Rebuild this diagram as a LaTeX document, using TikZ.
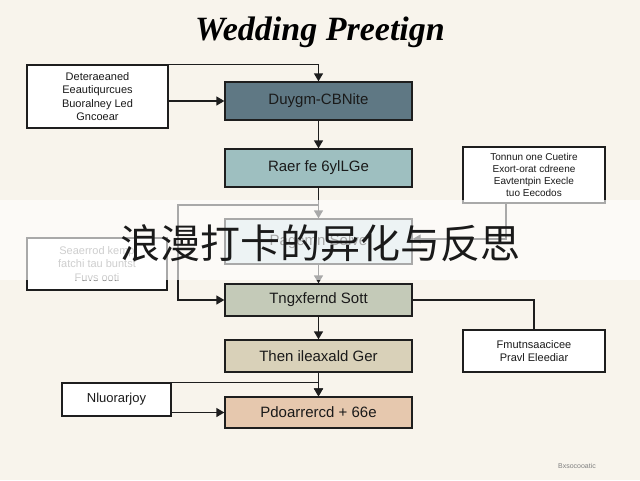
\documentclass[tikz,border=0pt]{standalone}
\usepackage{fontspec}
\setmainfont{Liberation Sans}
\newfontfamily\cjk{Noto Sans CJK SC}
\newfontfamily\titlefont{Liberation Serif}
\usetikzlibrary{arrows.meta}
\definecolor{bgc}{HTML}{F8F4EC}
\definecolor{linec}{HTML}{1E1E1E}
\definecolor{textc}{HTML}{1A1A1A}
\definecolor{fa}{HTML}{5F7884}
\definecolor{fb}{HTML}{9EBFC0}
\definecolor{fc}{HTML}{D2E2E4}
\definecolor{fd}{HTML}{C4CAB8}
\definecolor{fe}{HTML}{D9D1B9}
\definecolor{ff}{HTML}{E6C8AE}
\tikzset{
  mainbox/.style={draw=linec, line width=1.3pt, minimum width=187pt, inner sep=0pt,
    font=\fontsize{15}{17}\selectfont, text=textc},
  sidebox/.style={draw=linec, fill=white, line width=1.2pt, inner sep=0pt, align=center,
    font=\fontsize{11}{13.3}\selectfont, text=textc},
  arr/.style={draw=linec, line width=1.3pt, -{Triangle[length=8pt,width=9pt]}},
  link/.style={draw=linec, line width=1.3pt},
}
\begin{document}
\begin{tikzpicture}[x=1pt,y=-1pt]
\fill[bgc] (0,0) rectangle (640,480);
\useasboundingbox (0,0) rectangle (640,480);

% title
\node (title) at (320,32) {\titlefont\bfseries\itshape\fontsize{34}{36}\selectfont Wedding Preetign};

% main column
\node[mainbox, fill=fa, minimum height=38pt] (A) at (318.5,101) {Duygm-CBNite};
\node[mainbox, fill=fb, minimum height=38pt] (B) at (318.5,168) {Raer fe 6ylLGe};
\node[mainbox, fill=fc, minimum height=45pt] (C) at (318.5,241.5) {Pagemn Solve};
\node[mainbox, fill=fd, minimum height=32pt] (D) at (318.5,300) {Tngxfernd Sott};
\node[mainbox, fill=fe, minimum height=32pt] (E) at (318.5,356) {Then ileaxald Ger};
\node[mainbox, fill=ff, minimum height=31pt] (F) at (318.5,412.5) {Pdoarrercd + 66e};

% side boxes
\node[sidebox, minimum width=141pt, minimum height=63pt] (L1) at (97.5,96.5)
  {Deteraeaned\\Eeautiqurcues\\Buoralney Led\\Gncoear};
\node[sidebox, minimum width=142pt, minimum height=56pt, font=\fontsize{10}{12}\selectfont] (R1) at (534,175)
  {Tonnun one Cuetire\\Exort-orat cdreene\\Eavtentpin Execle\\tuo Eecodos};
\node[sidebox, minimum width=140pt, minimum height=52pt, text=gray] (L2) at (97,264)
  {Seaerrod kemp\\fatchi tau buntst\\Fuvs ooti};
\node[sidebox, minimum width=142pt, minimum height=42pt] (R2) at (534,351)
  {Fmutnsaacicee\\Pravl Eleediar};
\node[sidebox, minimum width=109pt, minimum height=33pt, font=\fontsize{13}{15}\selectfont] (L3) at (116.5,399.5)
  {Nluorarjoy};

% connectors
\draw[arr] (L1.north east) -| (A.north);
\draw[arr] (L1.east |- A.west) -- (A.west);
\draw[arr] (A) -- (B);
\draw[arr] (B) -- (C);
\draw[arr] (C) -- (D);
\draw[arr] (D) -- (E);
\draw[arr] (E) -- (F);

\coordinate (r1out) at (506,203);
\coordinate (r1turn) at (506,239);
\draw[arr] (r1out) -- (r1turn) -- (C.east |- r1turn);

\coordinate (jB) at (318.5,205);
\coordinate (jL) at (178,205);
\draw[arr] (jB) -- (jL) |- (D.west);

\draw[link] (D.east) -| (R2.north);

\draw[arr] (L3.north east) -| (F.north);
\draw[arr] (L3.east |- F.west) -- (F.west);

% footer mark
\node[text=gray, font=\fontsize{7}{8}\selectfont] (foot) at (577,466) {Bxsocooatic};

% faded band
\fill[white, opacity=0.62] (0,200) rectangle (640,280);
\node[text=textc, font=\cjk\fontsize{40}{44}\selectfont] (cn) at (320,243) {浪漫打卡的异化与反思};
\end{tikzpicture}
\end{document}
